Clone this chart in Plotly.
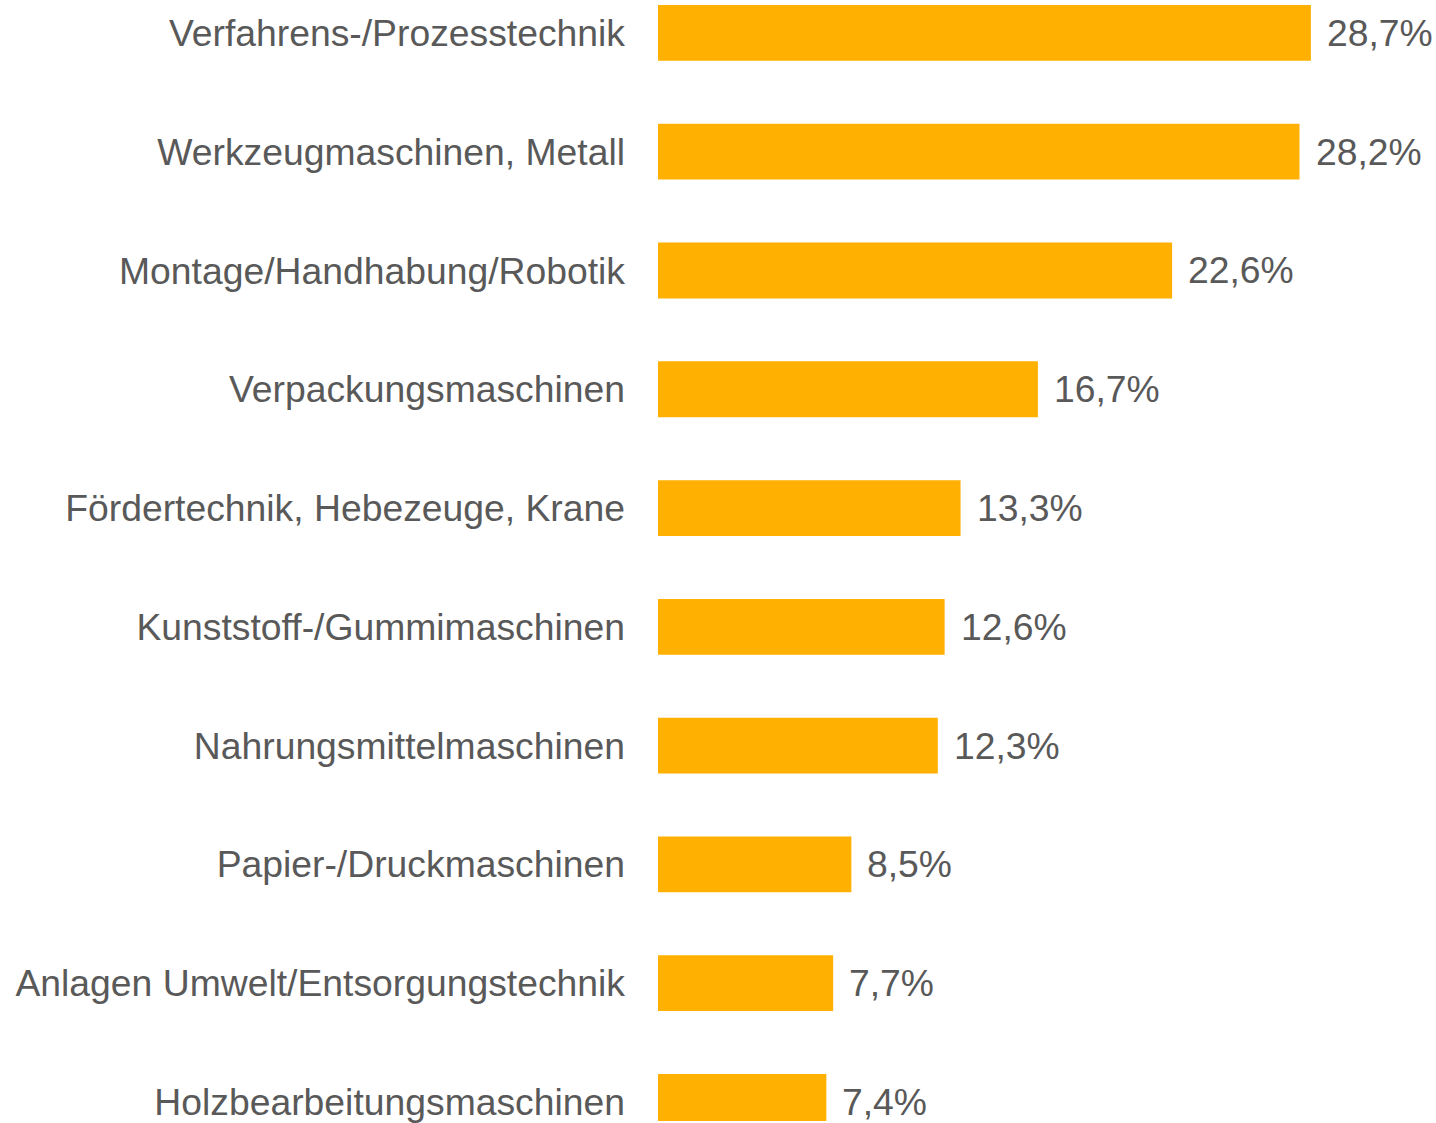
import plotly.graph_objects as go

categories = [
    "Verfahrens-/Prozesstechnik",
    "Werkzeugmaschinen, Metall",
    "Montage/Handhabung/Robotik",
    "Verpackungsmaschinen",
    "Fördertechnik, Hebezeuge, Krane",
    "Kunststoff-/Gummimaschinen",
    "Nahrungsmittelmaschinen",
    "Papier-/Druckmaschinen",
    "Anlagen Umwelt/Entsorgungstechnik",
    "Holzbearbeitungsmaschinen",
]
values = [28.7, 28.2, 22.6, 16.7, 13.3, 12.6, 12.3, 8.5, 7.7, 7.4]
labels = [f"{v:.1f}".replace(".", ",") + "%" for v in values]

FONT = "Liberation Sans, Arial, sans-serif"
TEXT = "#595959"
BAR = "#FFB000"
FS = 37.3

fig = go.Figure(go.Bar(
    x=values, y=categories, orientation="h",
    marker=dict(color=BAR, line=dict(width=0)),
    width=0.47,
    hoverinfo="skip",
))

for c, v, t in zip(categories, values, labels):
    fig.add_annotation(x=v, y=c, text=t, showarrow=False, xanchor="left",
                       yanchor="middle", xshift=14,
                       font=dict(family=FONT, size=FS, color=TEXT))

fig.update_layout(
    width=1436, height=1123,
    margin=dict(l=658, r=0, t=0, b=0),
    paper_bgcolor="white", plot_bgcolor="white",
    showlegend=False,
    font=dict(family=FONT, size=FS, color=TEXT),
    xaxis=dict(range=[0, 34.2], visible=False, fixedrange=True),
    yaxis=dict(range=[9.16, -0.277], type="category",
               showgrid=False, zeroline=False, showline=False,
               ticks="", ticklabelstandoff=32,
               tickfont=dict(family=FONT, size=FS, color=TEXT),
               fixedrange=True),
)

fig.write_html("out.html", config={"displayModeBar": False},
               post_script="document.body.style.margin='0';document.body.style.overflow='hidden';")
